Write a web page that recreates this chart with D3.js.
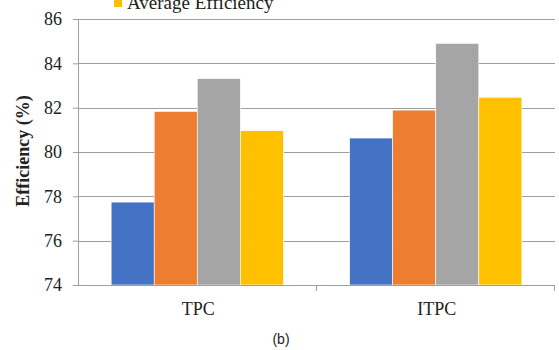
<!DOCTYPE html>
<html>
<head>
<meta charset="utf-8">
<script src="https://cdn.jsdelivr.net/npm/d3@7"></script>
<style>
  body { margin: 0; background: #fff; }
  svg { display: block; }
  .serif { font-family: 'Liberation Serif', 'Times New Roman', serif; }
</style>
</head>
<body>
<div id="chart"></div>
<script>
var categories = ["TPC", "ITPC"];
var seriesNames = ["Efficiency 1", "Efficiency 2", "Efficiency 3", "Average Efficiency"];
var seriesColors = ["#4472c4", "#ed7d31", "#a5a5a5", "#ffc000"];
var seriesValues = [
    [77.74, 80.63],
    [81.83, 81.89],
    [83.31, 84.90],
    [80.96, 82.47]
];
var yTicks = [74, 76, 78, 80, 82, 84, 86];

var width = 559, height = 350;
var margin = {top: 19, right: 4, bottom: 65, left: 78};
var innerW = width - margin.left - margin.right,
    innerH = height - margin.top - margin.bottom;

var svg = d3.select("#chart").append("svg")
    .attr("width", width)
    .attr("height", height);

var g = svg.append("g")
    .attr("transform", "translate(" + margin.left + "," + margin.top + ")");

var y = d3.scaleLinear().domain([74, 86]).range([innerH, 0]);
var x0 = d3.scaleBand().domain(categories).range([0, innerW]).paddingInner(0).paddingOuter(0);
var x1 = d3.scaleBand().domain(d3.range(seriesNames.length))
    .range([0, x0.bandwidth()]).paddingInner(0).paddingOuter(0.77);

// gridlines
g.selectAll(".grid").data(yTicks.slice(1))
    .enter().append("line")
    .attr("x1", 0).attr("x2", innerW)
    .attr("y1", function (d) { return Math.round(y(d)) + 0.5; })
    .attr("y2", function (d) { return Math.round(y(d)) + 0.5; })
    .attr("stroke", "#9e9e9e").attr("stroke-width", 1);

// bars
var groups = g.selectAll(".cat").data(categories)
    .enter().append("g")
    .attr("transform", function (d) { return "translate(" + x0(d) + ",0)"; });

groups.selectAll("rect")
    .data(function (d, ci) {
        return seriesValues.map(function (vals, si) { return {si: si, v: vals[ci]}; });
    })
    .enter().append("rect")
    .attr("x", function (d) { return x1(d.si); })
    .attr("width", x1.bandwidth())
    .attr("y", function (d) { return y(d.v); })
    .attr("height", function (d) { return innerH - y(d.v); })
    .attr("fill", function (d) { return seriesColors[d.si]; })
    .attr("stroke", "#fff").attr("stroke-width", 0.6);

// y axis
var yAxis = g.append("g")
    .call(d3.axisLeft(y).tickValues(yTicks).tickSize(5).tickPadding(11).tickFormat(d3.format("d")));
yAxis.attr("font-family", null).attr("font-size", null);
yAxis.select(".domain").attr("stroke", "#9e9e9e").attr("d", "M0.5," + innerH + "V0");
yAxis.selectAll(".tick line").attr("stroke", "#9e9e9e");
yAxis.selectAll("text")
    .attr("class", "serif")
    .style("font-size", "18px").attr("fill", "#222");

// x axis
var xAxisG = g.append("g").attr("transform", "translate(0," + innerH + ")");
xAxisG.append("line")
    .attr("x1", 0).attr("x2", innerW).attr("y1", 0.5).attr("y2", 0.5)
    .attr("stroke", "#9e9e9e");
xAxisG.selectAll(".sep").data(categories)
    .enter().append("line")
    .attr("x1", function (d) { return Math.round(x0(d) + x0.bandwidth()) - 0.5; })
    .attr("x2", function (d) { return Math.round(x0(d) + x0.bandwidth()) - 0.5; })
    .attr("y1", 0).attr("y2", 6)
    .attr("stroke", "#9e9e9e");
xAxisG.selectAll(".lab").data(categories)
    .enter().append("text")
    .attr("class", "serif")
    .attr("x", function (d) { return x0(d) + x0.bandwidth() / 2 + 1; })
    .attr("y", 30)
    .attr("text-anchor", "middle")
    .style("font-size", "18px").attr("fill", "#222")
    .text(function (d) { return d; });

// y title
svg.append("text")
    .attr("class", "serif")
    .attr("transform", "translate(29,151) rotate(-90)")
    .attr("text-anchor", "middle")
    .style("font-size", "18px").attr("font-weight", "bold").attr("fill", "#222")
    .text("Efficiency (%)");

// legend (only last entry visible, cut off at top)
var leg = svg.append("g");
leg.append("rect")
    .attr("x", 114).attr("y", -1).attr("width", 8).attr("height", 8)
    .attr("fill", seriesColors[3]);
leg.append("text")
    .attr("class", "serif")
    .attr("x", 127).attr("y", 9)
    .style("font-size", "19px").attr("fill", "#222")
    .text(seriesNames[3]);

// caption
svg.append("text")
    .attr("x", 281).attr("y", 344)
    .attr("text-anchor", "middle")
    .style("font-family", "'Liberation Sans', Arial, sans-serif")
    .style("font-size", "14px").attr("fill", "#222")
    .text("(b)");
</script>
</body>
</html>
